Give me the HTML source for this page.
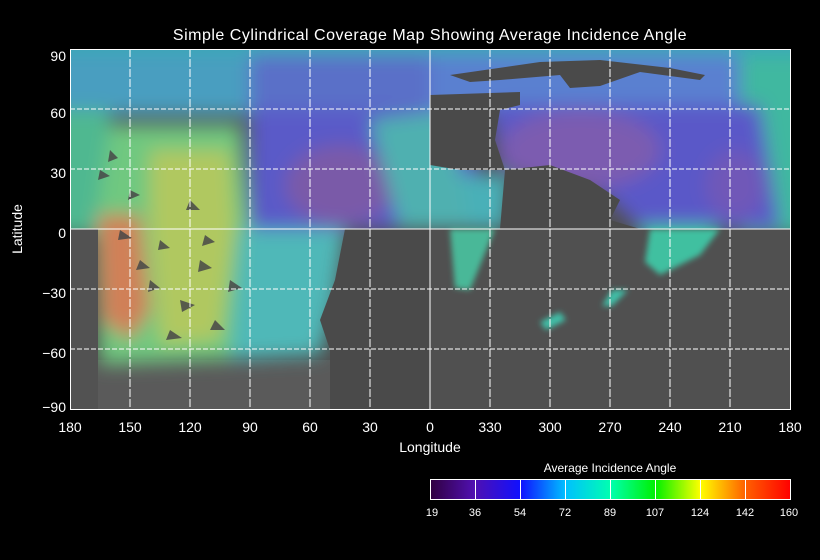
<!DOCTYPE html>
<html><head><meta charset="utf-8"><style>
html,body{margin:0;padding:0;background:#000;}
svg{display:block;}
text{font-family:"Liberation Sans",sans-serif;fill:#fff;}
</style></head><body>
<svg width="820" height="560" viewBox="0 0 820 560" xmlns="http://www.w3.org/2000/svg">
<defs>
<filter id="b" filterUnits="userSpaceOnUse" x="0" y="0" width="820" height="560"><feGaussianBlur stdDeviation="9"/></filter>
<filter id="b2" filterUnits="userSpaceOnUse" x="0" y="0" width="820" height="560"><feGaussianBlur stdDeviation="3"/></filter>
<linearGradient id="cb" x1="0" x2="1" y1="0" y2="0">
<stop offset="0" stop-color="#300040"/><stop offset="0.12" stop-color="#5010b0"/>
<stop offset="0.25" stop-color="#1010ff"/><stop offset="0.375" stop-color="#00c0ff"/>
<stop offset="0.5" stop-color="#00ffb0"/><stop offset="0.625" stop-color="#00f000"/>
<stop offset="0.75" stop-color="#ffff00"/><stop offset="0.875" stop-color="#ff6000"/>
<stop offset="1" stop-color="#ff0000"/></linearGradient>
<clipPath id="pc"><rect x="70" y="49" width="720" height="360"/></clipPath>
</defs>
<text x="430" y="40" font-size="16" text-anchor="middle" letter-spacing="0.5">Simple Cylindrical Coverage Map Showing Average Incidence Angle</text>
<g clip-path="url(#pc)">
<rect x="70" y="49" width="720" height="360" fill="#505050"/>
<rect x="70" y="360" width="720" height="49" fill="#5a5a5a"/>
<g filter="url(#b)">
<rect x="40" y="30" width="800" height="30" fill="#3aa8b8"/>
<rect x="40" y="55" width="220" height="60" fill="#4a9ec0"/>
<rect x="250" y="55" width="200" height="60" fill="#5a70c8"/>
<rect x="430" y="55" width="320" height="60" fill="#5a80d0"/>
<rect x="740" y="55" width="80" height="180" fill="#40b8a0"/>
<polygon points="250,110 460,110 500,229 250,229" fill="#5a5ac8"/>
<polygon points="490,105 760,105 780,229 640,229 610,200 560,175 500,170" fill="#5a58c8"/>
<ellipse cx="340" cy="185" rx="55" ry="40" fill="#7a5aa8"/>
<ellipse cx="580" cy="150" rx="80" ry="40" fill="#7c5cb0"/>
<ellipse cx="735" cy="185" rx="30" ry="35" fill="#7058b8"/>
<polygon points="440,175 510,175 505,229 440,229" fill="#48b0b8"/>
<polygon points="40,110 110,110 110,235 40,235" fill="#50b890"/>
<polygon points="110,125 240,125 250,229 230,360 100,365 95,229" fill="#70c880"/>
<polygon points="150,150 230,150 235,229 220,340 160,345 150,229" fill="#b0c860"/>
<polygon points="98,215 140,215 150,310 130,340 102,320" fill="#d08058"/>
<polygon points="240,229 345,229 335,300 320,355 230,360" fill="#50b8b8"/>
<polygon points="370,120 450,110 470,229 400,229" fill="#50b0b0"/>
<polygon points="640,225 720,225 700,260 660,275 645,260" fill="#40c0a0"/>
</g>
<g fill="#4a4a4a">
<polygon points="430,95 520,92 520,105 500,110 495,140 505,170 460,170 430,165"/>
<polygon points="500,229 505,170 550,165 590,180 620,200 610,220 640,229"/>
<rect x="430" y="229" width="360" height="180" fill="#505050"/>
<polygon points="345,229 430,229 430,409 330,409 330,350 320,320 335,280"/>
<polygon points="450,75 540,62 600,60 670,68 705,75 700,80 640,72 600,86 570,88 560,75 500,80 470,82"/>
<rect x="70" y="229" width="28" height="180" fill="#525252"/>
</g>
<g filter="url(#b2)">
<polygon points="450,229 495,229 470,290 455,288" fill="#48b898"/>
<polygon points="650,229 720,229 700,255 660,275 645,262" fill="#40c0a0"/>
<polygon points="612,290 628,290 612,306 602,306" fill="#40c0a8"/>
<polygon points="540,322 560,312 566,320 546,330" fill="#40c0a8"/>
</g>
<g fill="#484848" opacity="0.85">
<polygon points="110,150 118,158 108,162"/><polygon points="130,190 140,195 128,200"/>
<polygon points="160,240 170,248 158,250"/><polygon points="200,260 212,268 198,272"/>
<polygon points="180,300 195,305 182,312"/><polygon points="215,320 225,330 210,330"/>
<polygon points="150,280 160,288 148,292"/><polygon points="230,280 242,288 228,292"/>
<polygon points="120,230 132,238 118,240"/><polygon points="190,200 200,210 186,210"/>
<polygon points="100,170 110,176 98,180"/><polygon points="170,330 182,338 166,340"/>
<polygon points="140,260 150,268 136,270"/><polygon points="205,235 215,242 202,246"/>
</g>
</g>
<g stroke="#fff" stroke-width="1" fill="none">
<line x1="70" y1="109" x2="790" y2="109" stroke-dasharray="5,2"/>
<line x1="70" y1="169" x2="790" y2="169" stroke-dasharray="5,2"/>
<line x1="70" y1="229" x2="790" y2="229"/>
<line x1="70" y1="289" x2="790" y2="289" stroke-dasharray="5,2"/>
<line x1="70" y1="349" x2="790" y2="349" stroke-dasharray="5,2"/>
<g stroke-dasharray="8,2">
<line x1="130" y1="49" x2="130" y2="409"/><line x1="190" y1="49" x2="190" y2="409"/>
<line x1="250" y1="49" x2="250" y2="409"/><line x1="310" y1="49" x2="310" y2="409"/>
<line x1="370" y1="49" x2="370" y2="409"/><line x1="490" y1="49" x2="490" y2="409"/>
<line x1="550" y1="49" x2="550" y2="409"/><line x1="610" y1="49" x2="610" y2="409"/>
<line x1="670" y1="49" x2="670" y2="409"/><line x1="730" y1="49" x2="730" y2="409"/>
</g>
<line x1="430" y1="49" x2="430" y2="409"/>
<rect x="70.5" y="49.5" width="720" height="360"/>
</g>
<g font-size="14" text-anchor="end">
<text x="66" y="61">90</text><text x="66" y="118">60</text><text x="66" y="178">30</text>
<text x="66" y="238">0</text><text x="66" y="298">−30</text><text x="66" y="358">−60</text><text x="66" y="412">−90</text>
</g>
<g font-size="14" text-anchor="middle">
<text x="70" y="432">180</text><text x="130" y="432">150</text><text x="190" y="432">120</text>
<text x="250" y="432">90</text><text x="310" y="432">60</text><text x="370" y="432">30</text>
<text x="430" y="432">0</text><text x="490" y="432">330</text><text x="550" y="432">300</text>
<text x="610" y="432">270</text><text x="670" y="432">240</text><text x="730" y="432">210</text><text x="790" y="432">180</text>
<text x="430" y="452">Longitude</text>
</g>
<text transform="translate(22,229) rotate(-90)" font-size="14" text-anchor="middle">Latitude</text>
<text x="610" y="472" font-size="12" text-anchor="middle">Average Incidence Angle</text>
<rect x="430.5" y="479.5" width="360" height="20" fill="url(#cb)" stroke="#fff"/>
<g stroke="#fff"><line x1="475.5" y1="480" x2="475.5" y2="499"/><line x1="520.5" y1="480" x2="520.5" y2="499"/><line x1="565.5" y1="480" x2="565.5" y2="499"/><line x1="610.5" y1="480" x2="610.5" y2="499"/><line x1="655.5" y1="480" x2="655.5" y2="499"/><line x1="700.5" y1="480" x2="700.5" y2="499"/><line x1="745.5" y1="480" x2="745.5" y2="499"/></g>
<g font-size="11" text-anchor="middle">
<text x="432" y="516">19</text><text x="475" y="516">36</text><text x="520" y="516">54</text><text x="565" y="516">72</text><text x="610" y="516">89</text><text x="655" y="516">107</text><text x="700" y="516">124</text><text x="745" y="516">142</text><text x="789" y="516">160</text>
</g>
</svg>
</body></html>
